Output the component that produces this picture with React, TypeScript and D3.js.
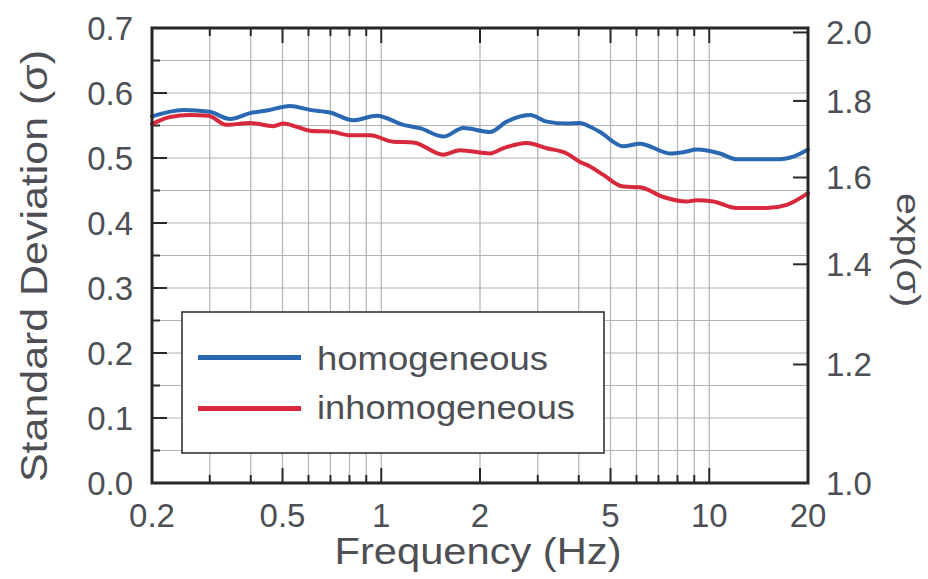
import React from "react";
import * as d3 from "d3";

const homFreq = [0.2, 0.249, 0.3, 0.346, 0.398, 0.447, 0.527, 0.606, 0.698, 0.822, 0.969, 1.168, 1.312, 1.546, 1.779, 2.146, 2.412, 2.842, 3.195, 3.676, 4.036, 4.33, 4.644, 5.47, 6.148, 7.59, 8.34, 9.16, 10.78, 12.12, 16.43, 18.04, 20];
const homSigma = [0.564, 0.574, 0.571, 0.56, 0.569, 0.573, 0.58, 0.574, 0.57, 0.558, 0.565, 0.551, 0.546, 0.533, 0.546, 0.54, 0.556, 0.566, 0.556, 0.553, 0.554, 0.548, 0.54, 0.518, 0.522, 0.507, 0.509, 0.513, 0.507, 0.498, 0.498, 0.502, 0.513];

const inhFreq = [0.2, 0.227, 0.261, 0.297, 0.338, 0.398, 0.469, 0.503, 0.552, 0.606, 0.714, 0.803, 0.924, 1.088, 1.252, 1.546, 1.738, 2.146, 2.355, 2.776, 3.195, 3.676, 4.036, 4.33, 4.754, 5.47, 6.148, 7.24, 8.53, 9.16, 10.29, 12.12, 14.97, 17.22, 20];
const inhSigma = [0.552, 0.563, 0.566, 0.565, 0.551, 0.554, 0.549, 0.553, 0.548, 0.542, 0.54, 0.535, 0.535, 0.525, 0.524, 0.505, 0.512, 0.507, 0.515, 0.523, 0.515, 0.507, 0.494, 0.487, 0.474, 0.456, 0.455, 0.44, 0.433, 0.435, 0.433, 0.423, 0.423, 0.428, 0.446];

const xMajorTicks = [0.2, 0.5, 1, 2, 5, 10, 20];
const xMajorLabels = ["0.2", "0.5", "1", "2", "5", "10", "20"];
const xGridValues = [0.3, 0.4, 0.5, 0.6, 0.7, 0.8, 0.9, 1, 2, 3, 4, 5, 6, 7, 8, 9, 10];
const yLeftTicks = [0, 0.1, 0.2, 0.3, 0.4, 0.5, 0.6, 0.7];
const yLeftLabels = ["0.0", "0.1", "0.2", "0.3", "0.4", "0.5", "0.6", "0.7"];
const yRightTicks = [1.0, 1.2, 1.4, 1.6, 1.8, 2.0];
const yRightLabels = ["1.0", "1.2", "1.4", "1.6", "1.8", "2.0"];
const seriesNames = ["homogeneous", "inhomogeneous"];

const W = 928, H = 579;
const L = 152, R = 808, T = 28, B = 483;
const BLUE = "#2a68b2";
const RED = "#d7283c";
const TEXT = "#4d4f55";
const FONT = "'Liberation Sans', Arial, Helvetica, sans-serif";

export default function App() {
  const x = d3.scaleLog().domain([0.2, 20]).range([L, R]);
  const y = d3.scaleLinear().domain([0, 0.7]).range([B, T]);
  const line = d3.line<[number, number]>()
    .x(d => x(d[0]))
    .y(d => y(d[1]))
    .curve(d3.curveMonotoneX);
  const homPath = line(homFreq.map((f, i) => [f, homSigma[i]] as [number, number])) || "";
  const inhPath = line(inhFreq.map((f, i) => [f, inhSigma[i]] as [number, number])) || "";
  const hGrid = d3.range(1, 14).map(i => i * 0.05);
  const leftTicks = d3.range(1, 14).map(i => i * 0.05);
  const isMajorX = (v: number) => xMajorTicks.some(m => Math.abs(m - v) < 1e-9);

  return (
    <svg width={W} height={H} style={{ position: "absolute", left: 0, top: 0, background: "#fff" }} fontFamily={FONT}>
      <rect x={0} y={0} width={W} height={H} fill="#fff" />
      {/* grid */}
      <g stroke="#b3b3b3" strokeWidth={1.2}>
        {xGridValues.map(v => (
          <line key={"gx" + v} x1={x(v)} x2={x(v)} y1={T} y2={B} />
        ))}
        {hGrid.map(v => (
          <line key={"gy" + v} x1={L} x2={R} y1={y(v)} y2={y(v)} />
        ))}
      </g>
      {/* ticks */}
      <g stroke="#2a2a2a" strokeWidth={2}>
        {xGridValues.map(v => {
          const len = isMajorX(v) ? 15 : 8;
          return (
            <g key={"tx" + v}>
              <line x1={x(v)} x2={x(v)} y1={B} y2={B - len} />
              <line x1={x(v)} x2={x(v)} y1={T} y2={T + len} />
            </g>
          );
        })}
        {leftTicks.map((v, i) => {
          const len = i % 2 === 1 ? 15 : 8;
          return <line key={"tl" + i} x1={L} x2={L + len} y1={y(v)} y2={y(v)} />;
        })}
        {yRightTicks.map(v => (
          <line key={"tr" + v} x1={R} x2={R - 15} y1={y(Math.log(v))} y2={y(Math.log(v))} />
        ))}
      </g>
      {/* curves */}
      <path d={homPath} fill="none" stroke={BLUE} strokeWidth={4} strokeLinejoin="round" strokeLinecap="round" />
      <path d={inhPath} fill="none" stroke={RED} strokeWidth={4} strokeLinejoin="round" strokeLinecap="round" />
      {/* frame */}
      <rect x={L} y={T} width={R - L} height={B - T} fill="none" stroke="#262626" strokeWidth={3} />
      {/* tick labels */}
      <g fill={TEXT} fontSize={33}>
        {xMajorTicks.map((v, i) => (
          <text key={"lx" + v} x={x(v)} y={527} textAnchor="middle">{xMajorLabels[i]}</text>
        ))}
        {yLeftTicks.map((v, i) => (
          <text key={"ll" + v} x={133} y={y(v)} dy="0.36em" textAnchor="end">{yLeftLabels[i]}</text>
        ))}
        {yRightTicks.map((v, i) => (
          <text key={"lr" + v} x={826} y={y(Math.log(v))} dy="0.36em" textAnchor="start">{yRightLabels[i]}</text>
        ))}
      </g>
      {/* axis titles */}
      <text x={478} y={564} textAnchor="middle" fontSize={36} fill={TEXT} textLength={287} lengthAdjust="spacingAndGlyphs">Frequency (Hz)</text>
      <text transform="translate(47,266) rotate(-90)" textAnchor="middle" fontSize={36} fill={TEXT} textLength={432} lengthAdjust="spacingAndGlyphs">Standard Deviation (σ)</text>
      <text transform="translate(897,250) rotate(90)" textAnchor="middle" fontSize={34} fill={TEXT} textLength={114} lengthAdjust="spacingAndGlyphs">exp(σ)</text>
      {/* legend */}
      <rect x={182} y={312} width={422} height={141} fill="#fff" stroke="#333" strokeWidth={1.6} />
      <line x1={198} x2={301} y1={357.5} y2={357.5} stroke={BLUE} strokeWidth={5} />
      <line x1={198} x2={301} y1={408.5} y2={408.5} stroke={RED} strokeWidth={5} />
      <text x={317} y={370} fontSize={34} fill={TEXT} textLength={231} lengthAdjust="spacingAndGlyphs">{seriesNames[0]}</text>
      <text x={317} y={419} fontSize={34} fill={TEXT} textLength={258} lengthAdjust="spacingAndGlyphs">{seriesNames[1]}</text>
    </svg>
  );
}
